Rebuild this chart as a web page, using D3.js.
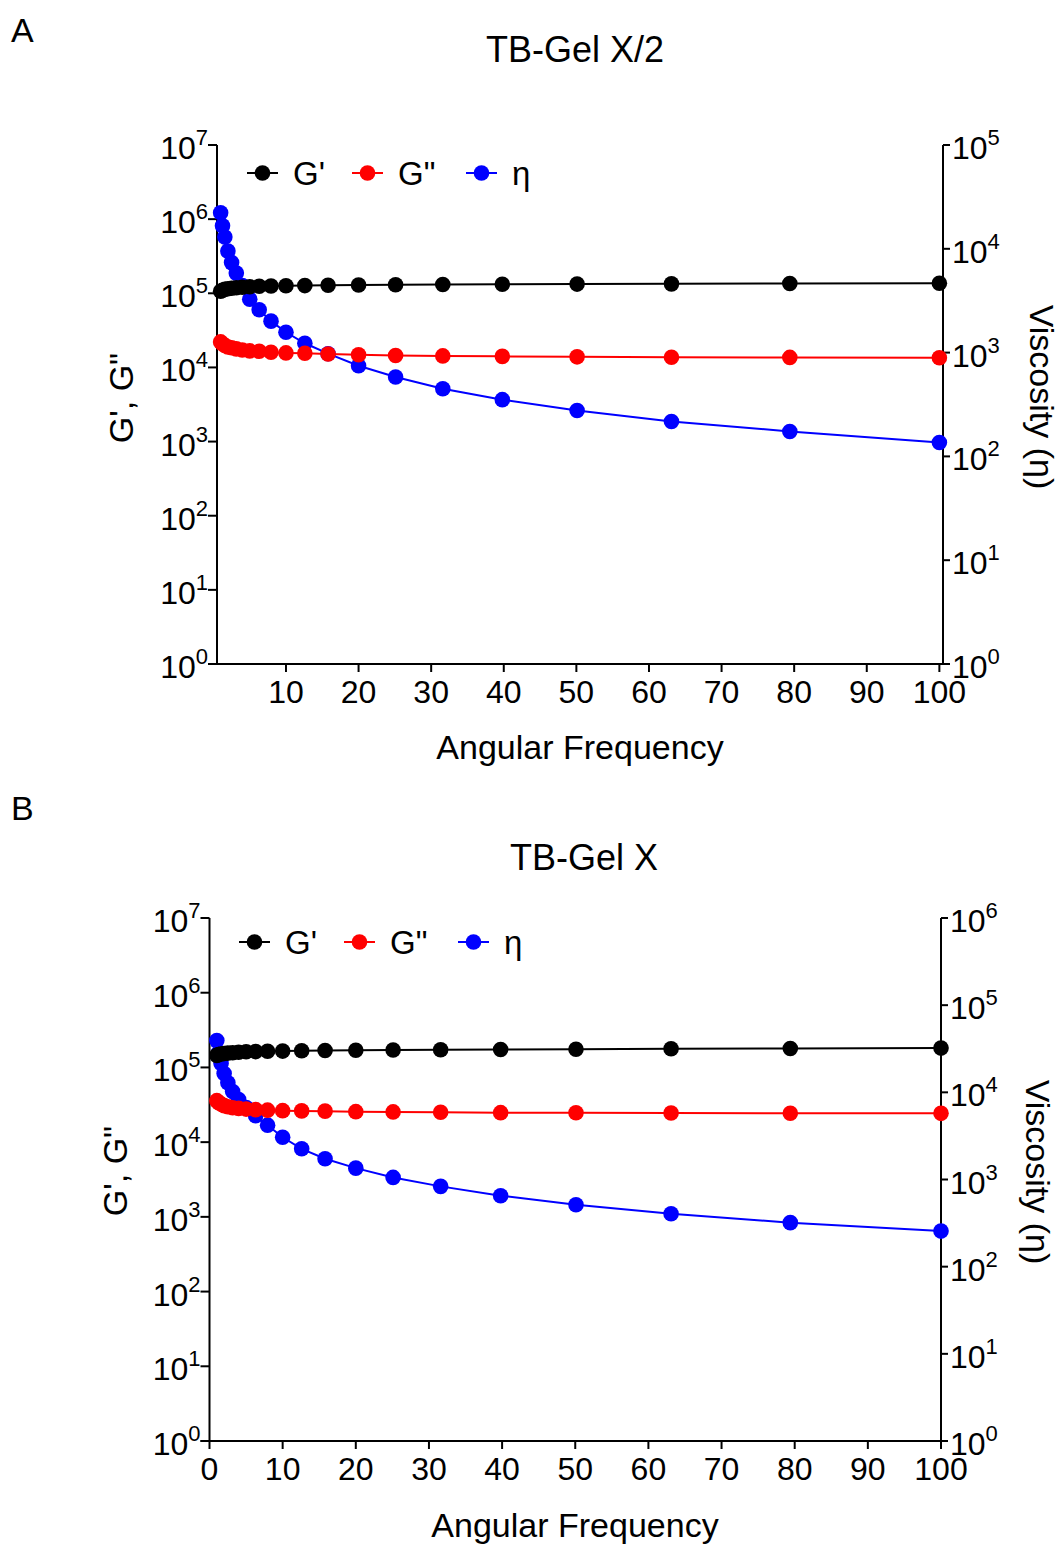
<!DOCTYPE html>
<html>
<head>
<meta charset="utf-8">
<script src="https://cdn.jsdelivr.net/npm/d3@7"></script>
<style>
  body { margin: 0; background: #fff; }
  svg { font-family: "Liberation Sans", Arial, sans-serif; }
</style>
</head>
<body>
<div id="chart"></div>
<script>
var W = 1063
var H = 1547

// angular frequency (10 points per decade, 1 .. 100)
var omega = [1, 1.26, 1.58, 2, 2.51, 3.16, 3.98, 5.01, 6.31, 7.94, 10, 12.6, 15.8, 20, 25.1, 31.6, 39.8, 50.1, 63.1, 79.4, 100]

// panel A: TB-Gel X/2
var gpA = [106400, 109800, 113300, 115000, 116900, 118700, 120500, 122300, 124400, 125100, 126200, 127000, 128200, 129400, 130200, 131100, 132400, 133000, 134000, 135300, 136500]
var gppA = [22100, 20800, 19800, 18900, 18400, 17800, 17200, 16700, 16500, 16000, 15700, 15500, 15200, 14800, 14500, 14300, 14100, 13900, 13700, 13650, 13500]
var etaA = [22200, 16700, 12970, 9500, 7360, 5830, 4420, 3270, 2590, 2010, 1570, 1230, 976, 748, 582, 449, 352, 277, 217, 174, 136]

// panel B: TB-Gel X
var gpB = [145000, 149000, 151500, 153500, 155500, 157500, 159600, 162200, 163000, 164500, 165500, 167000, 168200, 169800, 171300, 172500, 174100, 175500, 177700, 179300, 181500]
var gppB = [35900, 33800, 32300, 30800, 29800, 28900, 28300, 27700, 27200, 26800, 26400, 26200, 26000, 25600, 25400, 25100, 24800, 24700, 24500, 24400, 24300]
var etaB = [39200, 28600, 21400, 16400, 12900, 10200, 8270, 6700, 5400, 4200, 3050, 2250, 1730, 1350, 1057, 834, 652, 514, 405, 320, 256]

var xTicksA = [10, 20, 30, 40, 50, 60, 70, 80, 90, 100]
var xTicksB = [0, 10, 20, 30, 40, 50, 60, 70, 80, 90, 100]
var legendLabels = ["G'", 'G"', 'η']
var colors = ['#000000', '#ff0000', '#0000ff']

var svg = d3.select('#chart').append('svg')
  .attr('width', W)
  .attr('height', H)
  .attr('viewBox', [0, 0, W, H].join(' '))

function expLabel (sel, base, exp, anchor) {
  sel.attr('text-anchor', anchor)
  sel.append('tspan').text(base).style('font-size', '32px')
  sel.append('tspan').text(exp).style('font-size', '22px').attr('dy', '-14')
}

function drawPanel (p) {
  var g = svg.append('g')

  var x = d3.scaleLinear().domain(p.xDomain).range([p.left, p.right])
  var yL = d3.scaleLog().domain([1, 1e7]).range([p.bottom, p.top])
  var yR = d3.scaleLog().domain([1, Math.pow(10, p.rightMax)]).range([p.bottom, p.top])

  // panel letter and title
  g.append('text').text(p.letter)
    .attr('x', 11).attr('y', p.letterY)
    .style('font-size', '34px')
  g.append('text').text(p.title)
    .attr('x', p.titleX).attr('y', p.titleY)
    .attr('text-anchor', 'middle')
    .style('font-size', '36px')

  // axes lines
  var axisStyle = function (s) {
    return s.attr('stroke', '#000').attr('stroke-width', 2).attr('fill', 'none')
  }
  axisStyle(g.append('line')
    .attr('x1', p.left).attr('x2', p.left).attr('y1', p.top).attr('y2', p.bottom + 1))
  axisStyle(g.append('line')
    .attr('x1', p.right).attr('x2', p.right).attr('y1', p.top).attr('y2', p.bottom + 1))
  axisStyle(g.append('line')
    .attr('x1', p.left - 9).attr('x2', p.right + 7).attr('y1', p.bottom).attr('y2', p.bottom))

  // left ticks
  d3.range(0, 8).forEach(function (e) {
    var yy = yL(Math.pow(10, e))
    axisStyle(g.append('line').attr('x1', p.left - 9).attr('x2', p.left).attr('y1', yy).attr('y2', yy))
    g.append('text').attr('x', p.left - 9).attr('y', yy + 14)
      .call(expLabel, '10', String(e), 'end')
  })

  // right ticks
  d3.range(0, p.rightMax + 1).forEach(function (e) {
    var yy = yR(Math.pow(10, e))
    axisStyle(g.append('line').attr('x1', p.right).attr('x2', p.right + 7).attr('y1', yy).attr('y2', yy))
    g.append('text').attr('x', p.right + 9).attr('y', yy + 14)
      .call(expLabel, '10', String(e), 'start')
  })

  // x ticks
  p.xTicks.forEach(function (t) {
    var xx = x(t)
    axisStyle(g.append('line').attr('x1', xx).attr('x2', xx).attr('y1', p.bottom).attr('y2', p.bottom + 8))
    g.append('text').text(t)
      .attr('x', xx).attr('y', p.bottom + 39)
      .attr('text-anchor', 'middle')
      .style('font-size', '32px')
  })

  // axis titles
  g.append('text').text('Angular Frequency')
    .attr('x', p.xLabelX).attr('y', p.bottom + p.xLabelDy)
    .attr('text-anchor', 'middle')
    .style('font-size', '34px')
  g.append('text').text('G\', G"')
    .attr('transform', 'translate(' + p.yLabelX + ',' + p.yLabelY + ') rotate(-90)')
    .attr('text-anchor', 'middle')
    .style('font-size', '34px')
  g.append('text').text('Viscosity (η)')
    .attr('transform', 'translate(' + p.rLabelX + ',' + p.rLabelY + ') rotate(90)')
    .attr('text-anchor', 'middle')
    .style('font-size', '34px')

  // series, drawn blue first so red and black sit on top
  var series = [
    { v: p.eta, y: yR, c: colors[2] },
    { v: p.gpp, y: yL, c: colors[1] },
    { v: p.gp, y: yL, c: colors[0] }
  ]
  series.forEach(function (s) {
    var pts = omega.map(function (w, i) { return [x(w), s.y(s.v[i])] })
    g.append('path')
      .attr('d', d3.line()(pts))
      .attr('stroke', s.c).attr('stroke-width', 2).attr('fill', 'none')
    g.selectAll(null).data(pts).enter().append('circle')
      .attr('cx', function (d) { return d[0] })
      .attr('cy', function (d) { return d[1] })
      .attr('r', 7.8)
      .attr('fill', s.c)
  })

  // legend
  legendLabels.forEach(function (lab, i) {
    var lx = p.legendX[i]
    var ly = p.legendY
    g.append('line').attr('x1', lx).attr('x2', lx + 31).attr('y1', ly).attr('y2', ly)
      .attr('stroke', colors[i]).attr('stroke-width', 2)
    g.append('circle').attr('cx', lx + 15.5).attr('cy', ly).attr('r', 7.8).attr('fill', colors[i])
    g.append('text').text(lab)
      .attr('x', lx + 46).attr('y', ly + 12)
      .style('font-size', '33px')
  })
}

drawPanel({
  letter: 'A', letterY: 42,
  title: 'TB-Gel X/2', titleX: 575, titleY: 62,
  left: 217, right: 943, top: 145, bottom: 664,
  xDomain: [0.5, 100.5], xTicks: xTicksA, rightMax: 5,
  xLabelX: 580, xLabelDy: 95, yLabelX: 133, yLabelY: 398, rLabelX: 1030, rLabelY: 397,
  legendX: [247, 352, 466], legendY: 173,
  gp: gpA, gpp: gppA, eta: etaA
})

drawPanel({
  letter: 'B', letterY: 820,
  title: 'TB-Gel X', titleX: 584, titleY: 870,
  left: 209.5, right: 941, top: 918, bottom: 1441,
  xDomain: [0, 100], xTicks: xTicksB, rightMax: 6,
  xLabelX: 575, xLabelDy: 96, yLabelX: 127, yLabelY: 1171, rLabelX: 1026, rLabelY: 1172,
  legendX: [239, 344, 458], legendY: 942,
  gp: gpB, gpp: gppB, eta: etaB
})
</script>
</body>
</html>
